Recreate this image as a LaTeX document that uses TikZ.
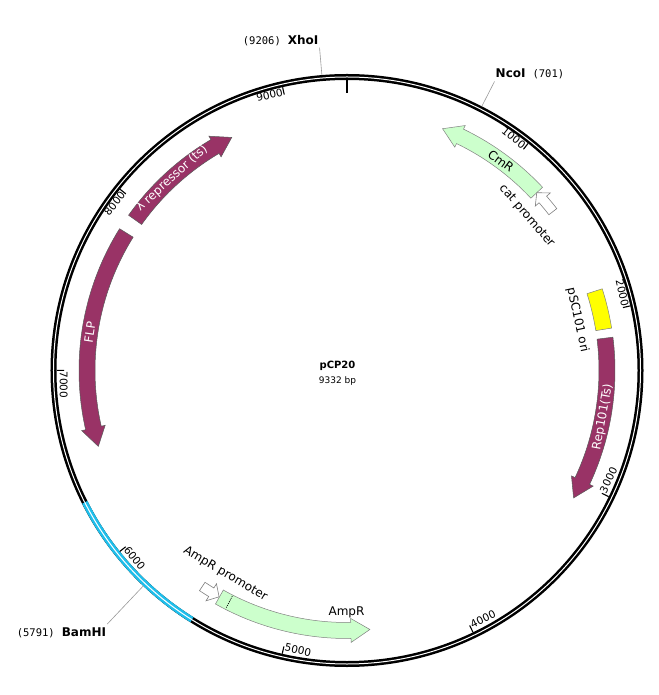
\documentclass[tikz,border=0pt]{standalone}
\usepackage{fontspec}
\setmainfont{DejaVu Sans}
\setmonofont{DejaVu Sans Mono}

\definecolor{plum}{RGB}{153,51,102}
\definecolor{mint}{RGB}{204,255,204}
\definecolor{oriyellow}{RGB}{255,255,0}
\definecolor{bamblue}{RGB}{30,190,235}

\tikzstyle{ring} = [draw=black, double=white, double distance=1pt, line width=2.5pt]
\tikzstyle{tickmark} = [line width=1.1pt]
\tikzstyle{ticktext} = [font=\fontsize{10.5}{12}\selectfont, inner sep=1pt]
\tikzstyle{gene} = [fill=plum, draw=black!65, line width=0.5pt]
\tikzstyle{marker} = [fill=mint, draw=black!50, line width=0.5pt]
\tikzstyle{prom} = [fill=white, draw=black!50, line width=0.6pt]
\tikzstyle{orifill} = [fill=oriyellow, draw=black!50, line width=0.5pt]
\tikzstyle{featlab} = [font=\fontsize{12}{14}\selectfont, inner sep=0pt]
\tikzstyle{site} = [draw=black!40, line width=0.6pt]

% bp -> angle on the map
\newcommand{\bpang}[1]{90-#1/9332*360}
\newcommand{\sitenum}[1]{{\ttfamily\fontsize{10.5}{12}\selectfont #1}}
\newcommand{\enzname}[1]{{\bfseries\fontsize{12}{14}\selectfont #1}}
% tail bp, tip bp, body half width, head half width, head length (deg), style
\newcommand{\featarrow}[6]{%
  \pgfmathsetmacro\angTail{\bpang{#1}}%
  \pgfmathsetmacro\angTip{\bpang{#2}}%
  \pgfmathsetmacro\angBase{\angTip+#5*sign(\angTail-\angTip)}%
  \pgfmathsetmacro\rIn{260-#3}\pgfmathsetmacro\rOut{260+#3}%
  \pgfmathsetmacro\rHin{260-#4}\pgfmathsetmacro\rHout{260+#4}%
  \draw[#6] (\angTail:\rOut pt) arc[start angle=\angTail, end angle=\angBase, radius=\rOut pt]
    -- (\angBase:\rHout pt) -- (\angTip:260pt) -- (\angBase:\rHin pt) -- (\angBase:\rIn pt)
    arc[start angle=\angBase, end angle=\angTail, radius=\rIn pt] -- cycle;
}

\begin{document}
\begin{tikzpicture}[x=1pt, y=1pt]
\useasboundingbox (-347,-324.5) rectangle (311,370.5);

% backbone
\draw[ring] (0,0) circle (293.5pt);
\pgfmathsetmacro\bamA{\bpang{5493}}
\pgfmathsetmacro\bamB{\bpang{6307}}
\draw[ring, draw=bamblue] (\bamA:293.5pt) arc[start angle=\bamA, end angle=\bamB, radius=293.5pt];
\draw[line width=2.5pt] (90:290.5pt) -- (90:277pt);

% ticks
\foreach \k in {1,...,9}
  \draw[tickmark] ({\bpang{\k000}}:290.5pt) -- ({\bpang{\k000}}:283pt);
\foreach \k in {1,2,8,9}
  \node[ticktext, anchor=base east, rotate={\bpang{\k000}-90}] (lab\k) at ({\bpang{\k000}}:282pt) {\k000};
\foreach \k in {3,...,7}
  \node[ticktext, anchor=base west, rotate={\bpang{\k000}+90}] (lab\k) at ({\bpang{\k000}}:287pt) {\k000};

% features
\featarrow{1215}{559}{8}{12}{4.2}{marker}
\featarrow{1357}{1215}{5}{10}{2}{prom}
\pgfmathsetmacro\oriA{\bpang{1873}}
\pgfmathsetmacro\oriB{\bpang{2097}}
\draw[orifill] (\oriA:252pt) arc[start angle=\oriA, end angle=\oriB, radius=252pt]
  -- (\oriB:268pt) arc[start angle=\oriB, end angle=\oriA, radius=268pt] -- cycle;
\featarrow{2148}{3094}{8}{12}{4.2}{gene}
\featarrow{5428}{4535}{8}{12}{4.2}{marker}
\pgfmathsetmacro\sigA{\bpang{5365}}
\draw[dash pattern=on 1pt off 1pt, line width=0.7pt] (\sigA:253pt) -- (\sigA:267pt);
\featarrow{5543}{5430}{5}{10}{2}{prom}
\featarrow{7827}{6559}{8}{12}{4.2}{gene}
\featarrow{7917}{8650}{8}{12}{4.2}{gene}

% feature labels
\node[featlab, rotate={\bpang{941}-90}] (cmr) at ({\bpang{941}}:260pt) {CmR};
\node[featlab, rotate={\bpang{1278}-90}] (catp) at ({\bpang{1278}}:237pt) {cat promoter};
\node[featlab, rotate={\bpang{2015}-90}] (ori) at ({\bpang{2015}}:236pt) {pSC101 ori};
\node[featlab, text=white, rotate={\bpang{2600}+90}] (rep) at ({\bpang{2600}}:260pt) {Rep101(Ts)};
\node[featlab, rotate={\bpang{4669}+90}] (ampr) at ({\bpang{4669}}:241.5pt) {AmpR};
\node[featlab, rotate={\bpang{5467}+90}] (amprp) at ({\bpang{5467}}:237pt) {AmpR promoter};
\node[featlab, text=white, rotate={\bpang{7219}-90}] (flp) at ({\bpang{7219}}:260pt) {FLP};
\node[featlab, text=white, rotate={\bpang{8235}-90}] (lam) at ({\bpang{8235}}:260pt) {λ repressor (ts)};

% sites
\pgfmathsetmacro\xhoA{\bpang{9206}}
\coordinate (xhoi) at (\xhoA:296.5pt);
\coordinate (xhoiend) at (\xhoA:324pt);
\draw[site] (xhoi) -- (xhoiend);
\node[anchor=south east, inner sep=1pt, yshift=1pt] (xhoilab) at (xhoiend) {\sitenum{(9206)}\hspace{7pt}\enzname{XhoI}};

\pgfmathsetmacro\ncoA{\bpang{701}}
\coordinate (ncoi) at (\ncoA:296.5pt);
\coordinate (ncoiend) at (\ncoA:324.5pt);
\draw[site] (ncoi) -- (ncoiend);
\node[anchor=south west, inner sep=1pt, yshift=1pt] (ncoilab) at (ncoiend) {\enzname{NcoI}\hspace{7pt}\sitenum{(701)}};

\pgfmathsetmacro\bamC{\bpang{5791}}
\coordinate (bamhi) at (\bamC:296.5pt);
\coordinate (bamhiend) at (\bamC:349pt);
\draw[site] (bamhi) -- (bamhiend);
\node[anchor=north east, inner sep=1pt, yshift=-2pt] (bamhilab) at (bamhiend) {\sitenum{(5791)}\hspace{7pt}\enzname{BamHI}};

% centre
\node[font=\fontsize{10}{12}\selectfont\bfseries] (name) at (-9.5,4.5) {pCP20};
\node[font=\fontsize{9}{11}\selectfont] (size) at (-9.5,-10.5) {9332 bp};
\end{tikzpicture}
\end{document}
